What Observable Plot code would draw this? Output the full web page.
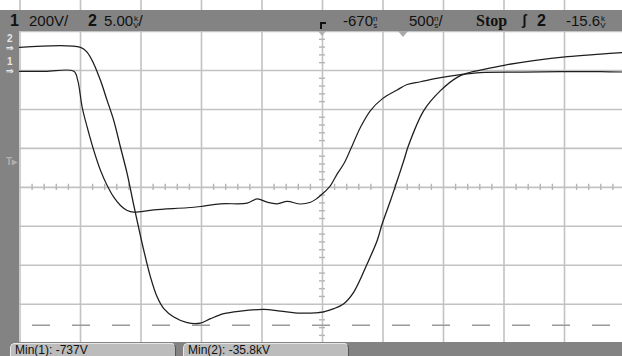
<!DOCTYPE html>
<html><head><meta charset="utf-8">
<script src="https://cdn.jsdelivr.net/npm/d3@7"></script>
<script src="https://cdn.jsdelivr.net/npm/@observablehq/plot@0.6"></script>
<style>
html,body{margin:0;padding:0;background:#fff;}
#scope{position:relative;width:622px;height:356px;overflow:hidden;background:#fff;font-family:"Liberation Sans",Arial,sans-serif;}
#scope svg{position:absolute;left:0;top:0;}
.bar{position:absolute;background:#838383;z-index:2;}
.t{position:absolute;z-index:3;color:#111;font-size:15px;line-height:15px;white-space:nowrap;}
.b{font-weight:bold;}
.st{display:inline-block;font-size:8px;line-height:7px;vertical-align:-2px;text-align:center;}
.box{position:absolute;z-index:3;background:#bcbcbc;border:1px solid #e8e8e8;border-right-color:#555;border-bottom:none;border-radius:5px 5px 0 0;font-size:12px;line-height:12px;padding-left:4px;color:#111;white-space:nowrap;}
.mk{position:absolute;z-index:3;color:#e6e6e6;font-size:10px;line-height:9px;font-weight:bold;}
</style></head>
<body>
<div id="scope"></div>
<script>
// Screen units: x in horizontal divisions from centre (-5..5), y in vertical divisions (-4..4)
const trace1X = [-5.01,-4.58,-4.11,-4.045,-3.972,-3.889,-3.78,-3.669,-3.559,-3.45,-3.339,-3.228,-3.119,-2.788,-2.236,-2.017,-1.686,-1.245,-1.079,-0.914,-0.749,-0.583,-0.364,-0.198,-0.099,0,0.132,0.243,0.352,0.463,0.628,0.793,0.987,1.235,1.4,1.62,1.95,2.281,2.612,3.273,3.934,4.595,5.0];
const trace1Y = [2.978,2.978,2.978,2.74,2.055,1.542,0.945,0.432,0.047,-0.253,-0.466,-0.594,-0.637,-0.576,-0.524,-0.491,-0.422,-0.406,-0.294,-0.381,-0.422,-0.362,-0.427,-0.381,-0.294,-0.165,0.047,0.347,0.604,0.97,1.542,1.971,2.271,2.5,2.64,2.71,2.817,2.894,2.945,2.958,2.971,2.971,2.958];
const trace2X = [-5.01,-4.0,-3.889,-3.78,-3.669,-3.559,-3.45,-3.339,-3.228,-3.119,-3.036,-2.954,-2.843,-2.732,-2.623,-2.458,-2.236,-2.017,-1.851,-1.631,-1.355,-0.97,-0.694,-0.364,0,0.187,0.352,0.517,0.739,0.904,0.987,1.124,1.235,1.344,1.421,1.674,1.95,2.226,2.392,2.727,3.058,3.488,4.05,4.595,5.0];
const trace2Y = [3.594,3.594,3.465,3.168,2.74,2.227,1.714,1.029,0.347,-0.465,-1.055,-1.619,-2.304,-2.817,-3.114,-3.329,-3.473,-3.483,-3.371,-3.242,-3.176,-3.132,-3.176,-3.227,-3.201,-3.114,-2.986,-2.688,-1.96,-1.363,-0.935,-0.337,0.176,0.688,1.073,1.971,2.483,2.824,2.932,3.047,3.15,3.253,3.355,3.419,3.465];
const gridX = [-5,-4,-3,-2,-1,0,1,2,3,4,5];
const gridY = [-4,-3,-2,-1,0,1,2,3,4];
const minLevel2 = -3.54; // Min(2) marker line
const topLabels = {ch1:"200V/", ch2:"5.00", delay:"-670", timebase:"500", trig:"-15.6"};
const measurements = ["Min(1):  -737V", "Min(2):  -35.8kV"];

const t1 = trace1X.map((x,i)=>({x, y:trace1Y[i]}));
const t2 = trace2X.map((x,i)=>({x, y:trace2Y[i]}));
const minorX = d3.range(-25,26).filter(k=>k%5!==0).map(k=>k/5);
const minorY = d3.range(-20,21).filter(k=>k%5!==0).map(k=>k/5);

const chart = Plot.plot({
  width: 622, height: 356, margin: 0,
  x: {domain: [-5,5], range: [19.5, 624.5], axis: null},
  y: {domain: [-4,4], range: [342.7, 31], axis: null},
  style: {background: "transparent", overflow: "hidden"},
  marks: [
    Plot.ruleX(gridX, {stroke: "#c2c2c2", strokeWidth: 1.6}),
    Plot.ruleY(gridY, {stroke: "#c2c2c2", strokeWidth: 1.6}),
    Plot.ruleX(minorX, {x: d=>d, y1: -0.08, y2: 0.08, stroke: "#b5b5b5", strokeWidth: 1.4}),
    Plot.ruleY(minorY, {y: d=>d, x1: -0.05, x2: 0.05, stroke: "#b5b5b5", strokeWidth: 1.4}),
    Plot.ruleY([minLevel2], {stroke: "#9a9a9a", strokeWidth: 1.4, strokeDasharray: "18,22", strokeDashoffset: 8}),
    Plot.line(t1, {x: "x", y: "y", stroke: "#1e1e1e", strokeWidth: 1.2, curve: "catmull-rom"}),
    Plot.line(t2, {x: "x", y: "y", stroke: "#1e1e1e", strokeWidth: 1.3, curve: "catmull-rom"})
  ]
});
const scope = document.getElementById("scope");
scope.appendChild(chart);

function add(html, cls, left, top, extra) {
  const d = document.createElement("div");
  d.className = cls; d.innerHTML = html;
  d.style.left = left + "px"; d.style.top = top + "px";
  if (extra) Object.assign(d.style, extra);
  scope.appendChild(d);
  return d;
}
const stack = (a,b)=>`<span class="st">${a}<br>${b}</span>`;
// chrome bars
add("", "bar", 0, 10, {width:"622px", height:"21px"});
add("", "bar", 0, 10, {width:"19px", height:"346px"});
add("", "bar", 0, 342, {width:"622px", height:"14px"});
// top readouts
add("1", "t b", 10, 13, {fontSize:"16px"});
add(topLabels.ch1, "t", 29, 13);
add("2", "t b", 88, 13, {fontSize:"16px"});
add(topLabels.ch2 + stack("k","V") + "/", "t", 104, 13);
add("", "t", 320, 22, {width:"6px", height:"7px", borderTop:"2px solid #111", borderLeft:"2px solid #111", boxSizing:"border-box"});
add(topLabels.delay + stack("n","s"), "t", 343, 13);
add(topLabels.timebase + stack("n","s") + "/", "t", 409, 13);
add("Stop", "t b", 476, 13, {fontFamily:"'Liberation Serif',serif", fontSize:"16px"});
add("&#x0283;", "t b", 522, 13, {fontSize:"14px"});
add("2", "t b", 537, 13, {fontSize:"16px"});
add(topLabels.trig + stack("k","V"), "t", 566, 13);
// top markers
add("", "t", 318, 31, {width:"0", height:"0", borderLeft:"4px solid transparent", borderRight:"4px solid transparent", borderTop:"5px solid #b0b0b0"});
add("", "t", 398, 31, {width:"0", height:"0", borderLeft:"5px solid transparent", borderRight:"5px solid transparent", borderTop:"6px solid #a8a8a8"});
// left markers
add("2", "mk", 7, 34);
add("&#x21D2;", "mk", 6, 44, {fontSize:"9px", lineHeight:"8px"});
add("1", "mk", 7, 57);
add("&#x21D2;", "mk", 6, 67, {fontSize:"9px", lineHeight:"8px"});
add("T&#x25B8;", "mk", 6, 157, {color:"#b0b0b0"});
// bottom measurement boxes
add(measurements[0], "box", 10, 343, {width:"160px", height:"13px"});
add(measurements[1], "box", 183, 343, {width:"160px", height:"13px"});
</script>
</body></html>
